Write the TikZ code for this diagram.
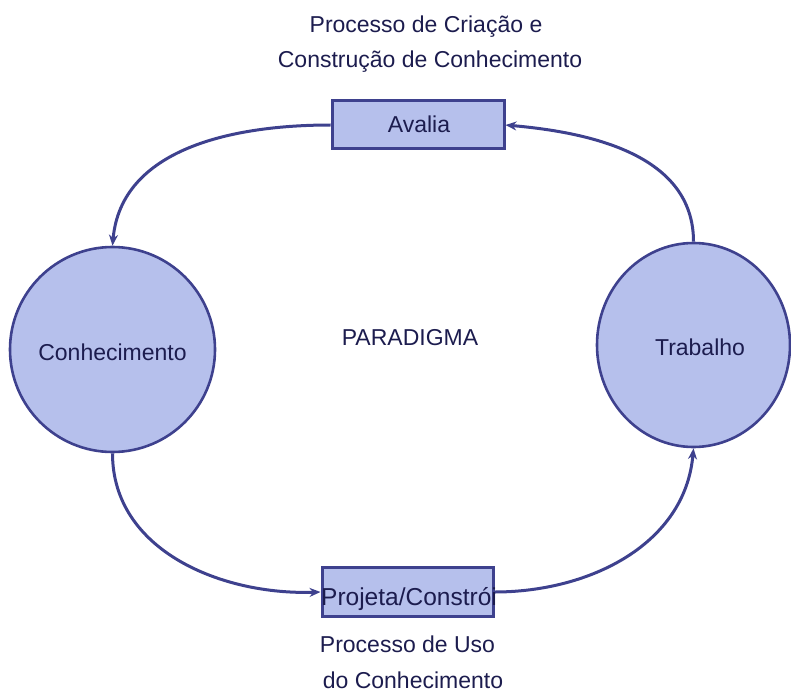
\documentclass[tikz,border=0pt]{standalone}
\usepackage{fontspec}
\setmainfont{Liberation Sans}
\usetikzlibrary{arrows.meta,shapes.geometric}
\definecolor{edge}{HTML}{3E418E}
\definecolor{fillc}{HTML}{B6C0EC}
\definecolor{txt}{HTML}{1C1C4E}
\begin{document}
\begin{tikzpicture}[x=1pt,y=-1pt,
  box/.style={draw=edge,fill=fillc,line width=3pt,rectangle,inner sep=0pt},
  bub/.style={draw=edge,fill=fillc,line width=2.6pt,inner sep=0pt},
  lbl/.style={text=txt,anchor=base,inner sep=0pt,font=\fontsize{23}{26}\selectfont},
  conn/.style={draw=edge,line width=3pt,-{Stealth[length=11pt,width=9pt]}}]
\useasboundingbox (0,0) rectangle (791,695);
\node[box,minimum width=172pt,minimum height=48pt] (avalia) at (418,125) {};
\node[box,minimum width=171pt,minimum height=49pt] (projeta) at (407.5,592) {};
\node[bub,circle,minimum size=205pt] (conh) at (112.5,349.5) {};
\node[bub,ellipse,minimum width=193pt,minimum height=204pt] (trab) at (693.5,345) {};
% connectors
\draw[conn] (avalia.west) to[out=180,in=85,looseness=1.0] (conh.north);
\draw[conn] (conh.south) to[out=-90,in=182,looseness=1.0] (projeta.west);
\draw[conn] (projeta.east) to[out=0,in=-95,looseness=1.0] (trab.south);
\draw[conn] (trab.north) to[out=90,in=-5,looseness=1.0] (avalia.east);
% labels
\node[lbl] (t1) at (426,33) {Processo de Criação e};
\node[lbl] (t2) at (430,68) {Construção de Conhecimento};
\node[lbl] (tav) at (419,133) {Avalia};
\node[lbl] (tco) at (112.5,360) {Conhecimento};
\node[lbl] (ttr) at (700,355) {Trabalho};
\node[lbl] (tpa) at (410,345) {PARADIGMA};
\node[lbl,font=\fontsize{24.5}{27}\selectfont] (tpj) at (409,605) {Projeta/Constrói};
\node[lbl] (b1) at (407.5,652) {Processo de Uso};
\node[lbl] (b2) at (413,688) {do Conhecimento};
\end{tikzpicture}
\end{document}
